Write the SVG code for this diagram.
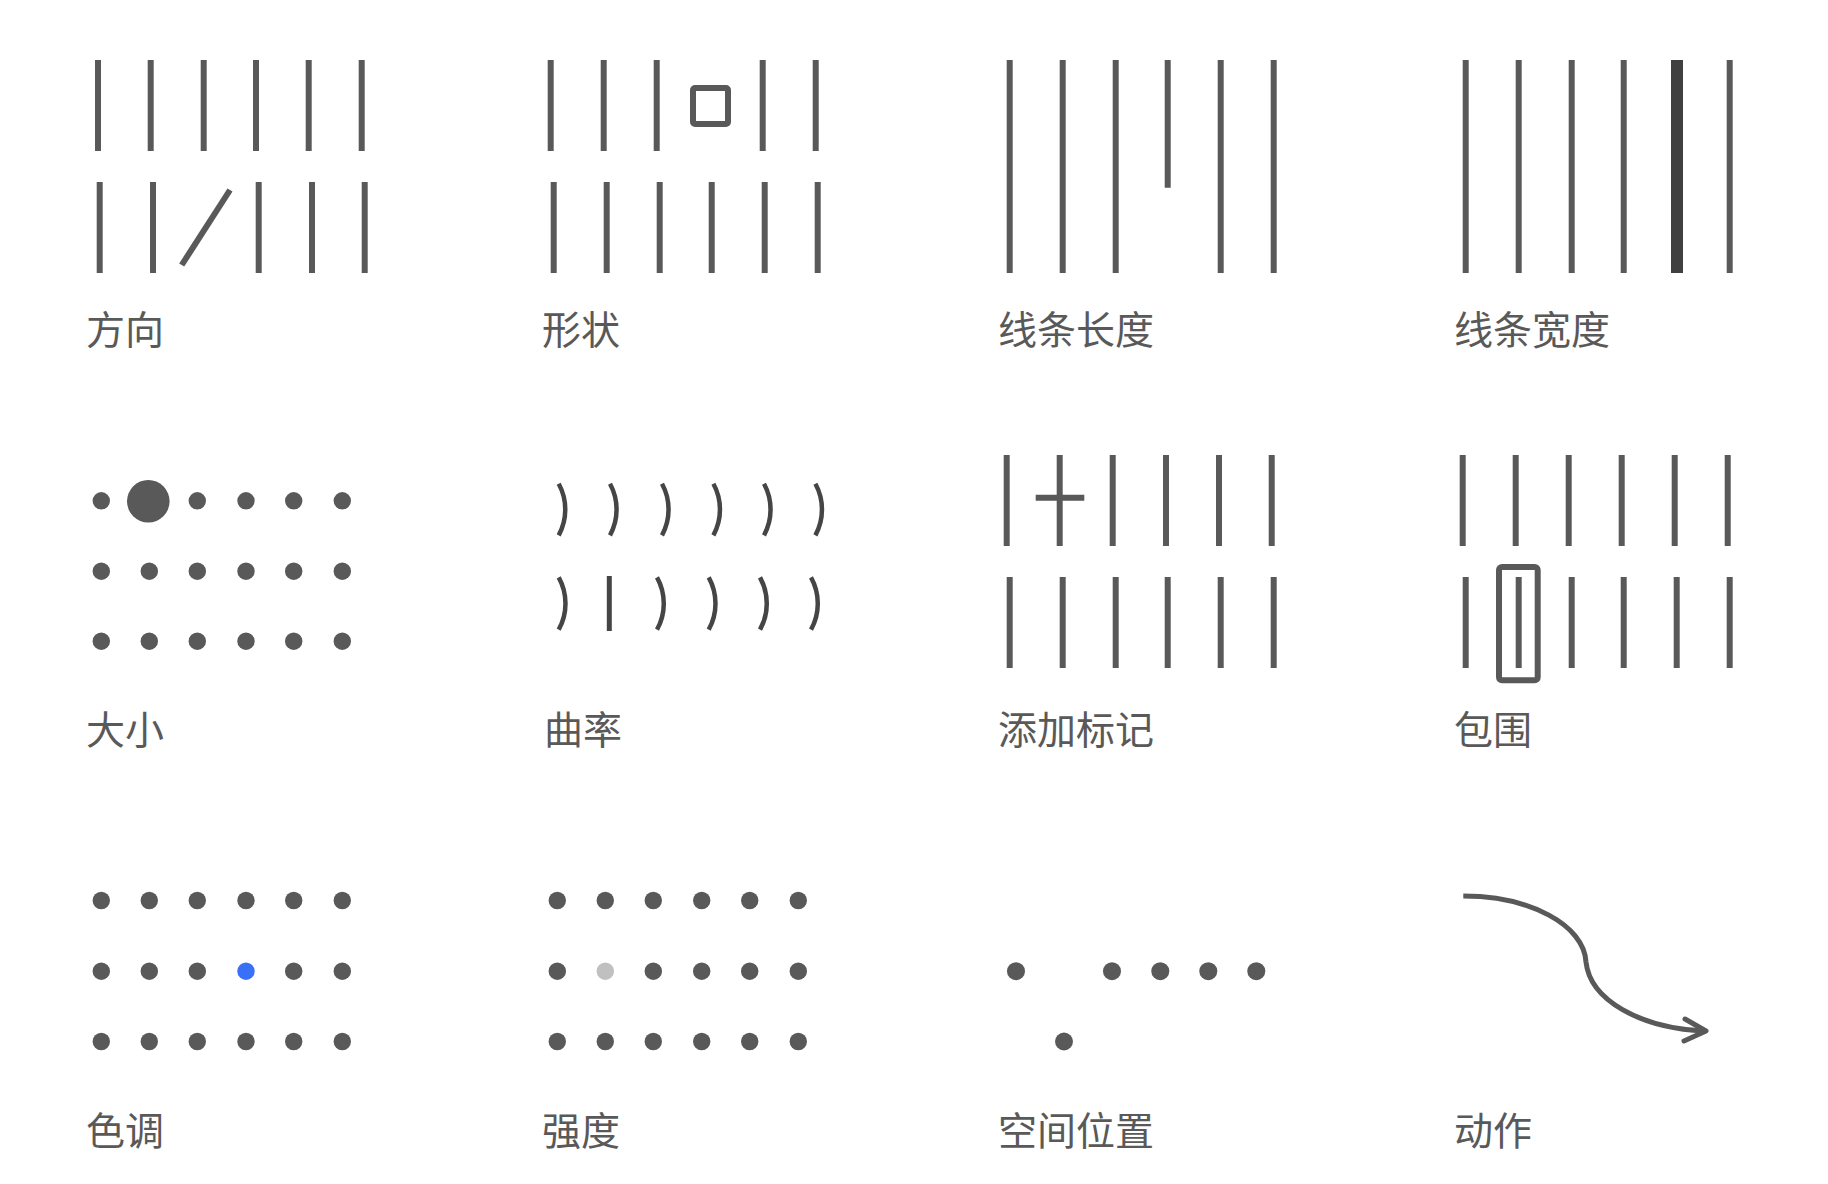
<svg xmlns="http://www.w3.org/2000/svg" width="1828" height="1184" viewBox="0 0 1828 1184">
<style>
.bg{fill:#ffffff}
.ln{stroke:#595959;stroke-width:6;fill:none}
.thick{stroke:#404040;stroke-width:12;fill:none}
.arc{stroke:#454545;stroke-width:4.5;fill:none}
.dot{fill:#595959}
.lbl{font-family:"Noto Sans CJK SC","Noto Sans",sans-serif;font-size:39px;fill:#595959}
</style>
<rect class="bg" x="0" y="0" width="1828" height="1184"/>

<g id="p-direction">
<path class="ln" d="M98 60V151M150.7 60V151M203.7 60V151M256 60V151M308.7 60V151M361.7 60V151"/>
<path class="ln" d="M99.7 182V273M153 182V273M258.7 182V273M312 182V273M364.7 182V273"/>
<path class="ln" d="M181.7 265L230 190"/>
<text class="lbl" x="86" y="344">方向</text>
</g>

<g id="p-shape">
<path class="ln" d="M550.7 60V151M603.7 60V151M656.7 60V151M762.7 60V151M815.7 60V151"/>
<rect class="ln" x="693" y="88" width="35" height="36" rx="2"/>
<path class="ln" d="M553.7 182V273M606.7 182V273M659.7 182V273M711.7 182V273M764.7 182V273M817.7 182V273"/>
<text class="lbl" x="542" y="344">形状</text>
</g>

<g id="p-length">
<path class="ln" d="M1009.7 60V273M1062.7 60V273M1115.7 60V273M1167.7 60V187.7M1220.7 60V273M1273.7 60V273"/>
<text class="lbl" x="998" y="344">线条长度</text>
</g>

<g id="p-width">
<path class="ln" d="M1465.7 60V273M1518.7 60V273M1571.7 60V273M1623.7 60V273M1729.7 60V273"/>
<path class="thick" d="M1677 60V273"/>
<text class="lbl" x="1454" y="344">线条宽度</text>
</g>

<g id="p-size">
<circle class="dot" cx="101.3" cy="500.8" r="8.7"/>
<circle class="dot" cx="148.3" cy="501.3" r="21.3"/>
<circle class="dot" cx="197.3" cy="500.8" r="8.7"/>
<circle class="dot" cx="246" cy="500.8" r="8.7"/>
<circle class="dot" cx="293.7" cy="500.8" r="8.7"/>
<circle class="dot" cx="342.3" cy="500.8" r="8.7"/>
<circle class="dot" cx="101.3" cy="571.2" r="8.7"/>
<circle class="dot" cx="149.3" cy="571.2" r="8.7"/>
<circle class="dot" cx="197.3" cy="571.2" r="8.7"/>
<circle class="dot" cx="246" cy="571.2" r="8.7"/>
<circle class="dot" cx="293.7" cy="571.2" r="8.7"/>
<circle class="dot" cx="342.3" cy="571.2" r="8.7"/>
<circle class="dot" cx="101.3" cy="641.2" r="8.7"/>
<circle class="dot" cx="149.3" cy="641.2" r="8.7"/>
<circle class="dot" cx="197.3" cy="641.2" r="8.7"/>
<circle class="dot" cx="246" cy="641.2" r="8.7"/>
<circle class="dot" cx="293.7" cy="641.2" r="8.7"/>
<circle class="dot" cx="342.3" cy="641.2" r="8.7"/>
<text class="lbl" x="86" y="744">大小</text>
</g>

<g id="p-curvature">
<path class="arc" d="M558.7 483.7A54 54 0 0 1 558.7 535.3M610 483.7A54 54 0 0 1 610 535.3M662 483.7A54 54 0 0 1 662 535.3M713.4 483.7A54 54 0 0 1 713.4 535.3M764 483.7A54 54 0 0 1 764 535.3M815.4 483.7A54 54 0 0 1 815.4 535.3"/>
<path class="arc" d="M558.7 577.3A54 54 0 0 1 558.7 629.7M657 577.3A54 54 0 0 1 657 629.7M708.7 577.3A54 54 0 0 1 708.7 629.7M760 577.3A54 54 0 0 1 760 629.7M811 577.3A54 54 0 0 1 811 629.7"/>
<path class="arc" style="stroke-width:5" d="M609.3 576V631"/>
<text class="lbl" x="544" y="744">曲率</text>
</g>

<g id="p-mark">
<path class="ln" d="M1006.7 455V546M1059.7 455V546M1112.7 455V546M1166 455V546M1219 455V546M1271.7 455V546"/>
<path class="ln" d="M1035.7 497.7H1084.3"/>
<path class="ln" d="M1009.7 577V668M1062.7 577V668M1115.7 577V668M1167.7 577V668M1220.7 577V668M1273.7 577V668"/>
<text class="lbl" x="998" y="744">添加标记</text>
</g>

<g id="p-enclose">
<path class="ln" d="M1462.7 455V546M1515.7 455V546M1568.7 455V546M1621.7 455V546M1674.7 455V546M1727.7 455V546"/>
<path class="ln" d="M1465.7 577V668M1518.7 577V668M1571.7 577V668M1623.7 577V668M1676.7 577V668M1729.7 577V668"/>
<rect class="ln" x="1499" y="567" width="38.7" height="113.3" rx="3"/>
<text class="lbl" x="1454" y="744">包围</text>
</g>

<g id="p-hue">
<circle class="dot" cx="101.3" cy="900.5" r="8.7"/>
<circle class="dot" cx="149.3" cy="900.5" r="8.7"/>
<circle class="dot" cx="197.3" cy="900.5" r="8.7"/>
<circle class="dot" cx="246" cy="900.5" r="8.7"/>
<circle class="dot" cx="293.7" cy="900.5" r="8.7"/>
<circle class="dot" cx="342.3" cy="900.5" r="8.7"/>
<circle class="dot" cx="101.3" cy="971.2" r="8.7"/>
<circle class="dot" cx="149.3" cy="971.2" r="8.7"/>
<circle class="dot" cx="197.3" cy="971.2" r="8.7"/>
<circle cx="246" cy="971.2" r="8.7" fill="#3a6ff8"/>
<circle class="dot" cx="293.7" cy="971.2" r="8.7"/>
<circle class="dot" cx="342.3" cy="971.2" r="8.7"/>
<circle class="dot" cx="101.3" cy="1041.5" r="8.7"/>
<circle class="dot" cx="149.3" cy="1041.5" r="8.7"/>
<circle class="dot" cx="197.3" cy="1041.5" r="8.7"/>
<circle class="dot" cx="246" cy="1041.5" r="8.7"/>
<circle class="dot" cx="293.7" cy="1041.5" r="8.7"/>
<circle class="dot" cx="342.3" cy="1041.5" r="8.7"/>
<text class="lbl" x="86" y="1145">色调</text>
</g>

<g id="p-intensity">
<circle class="dot" cx="557.3" cy="900.5" r="8.7"/>
<circle class="dot" cx="605.3" cy="900.5" r="8.7"/>
<circle class="dot" cx="653.3" cy="900.5" r="8.7"/>
<circle class="dot" cx="701.7" cy="900.5" r="8.7"/>
<circle class="dot" cx="749.7" cy="900.5" r="8.7"/>
<circle class="dot" cx="798.3" cy="900.5" r="8.7"/>
<circle class="dot" cx="557.3" cy="971.2" r="8.7"/>
<circle cx="605.3" cy="971.2" r="8.7" fill="#c0c0c0"/>
<circle class="dot" cx="653.3" cy="971.2" r="8.7"/>
<circle class="dot" cx="701.7" cy="971.2" r="8.7"/>
<circle class="dot" cx="749.7" cy="971.2" r="8.7"/>
<circle class="dot" cx="798.3" cy="971.2" r="8.7"/>
<circle class="dot" cx="557.3" cy="1041.5" r="8.7"/>
<circle class="dot" cx="605.3" cy="1041.5" r="8.7"/>
<circle class="dot" cx="653.3" cy="1041.5" r="8.7"/>
<circle class="dot" cx="701.7" cy="1041.5" r="8.7"/>
<circle class="dot" cx="749.7" cy="1041.5" r="8.7"/>
<circle class="dot" cx="798.3" cy="1041.5" r="8.7"/>
<text class="lbl" x="542" y="1145">强度</text>
</g>

<g id="p-position">
<circle class="dot" cx="1016" cy="971.2" r="9"/>
<circle class="dot" cx="1112" cy="971.2" r="9"/>
<circle class="dot" cx="1160.3" cy="971.2" r="9"/>
<circle class="dot" cx="1208.3" cy="971.2" r="9"/>
<circle class="dot" cx="1256.3" cy="971.2" r="9"/>
<circle class="dot" cx="1064" cy="1041.5" r="9"/>
<text class="lbl" x="998" y="1145">空间位置</text>
</g>

<g id="p-motion">
<path class="ln" style="stroke-width:5" d="M1463.3 896C1530 896 1584 925 1586 962C1590 1000 1640 1028 1704 1031"/>
<path class="ln" style="stroke-width:5;stroke-linecap:round;stroke-linejoin:round" d="M1685 1019L1706 1031L1684 1041"/>
<text class="lbl" x="1454" y="1145">动作</text>
</g>
</svg>
